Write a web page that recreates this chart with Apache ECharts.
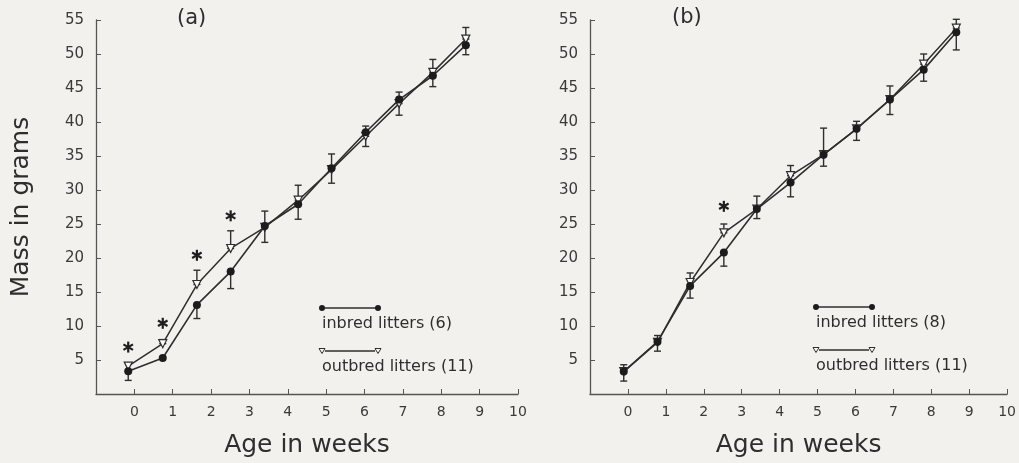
<!DOCTYPE html>
<html>
<head>
<meta charset="utf-8">
<script src="https://cdn.jsdelivr.net/npm/echarts@6/dist/echarts.min.js"></script>
<style>
html,body{margin:0;padding:0;background:#f2f1ed;}
#c{width:1019px;height:463px;}
</style>
</head>
<body>
<div id="c"></div>
<script>
// ---------- Data ----------
// Panel (a)
const weeksA = [-0.16, 0.74, 1.63, 2.51, 3.40, 4.27, 5.14, 6.03, 6.90, 7.78, 8.64];
const inbredA = [3.35, 5.3, 13.1, 18.0, 24.7, 27.9, 33.2, 38.5, 43.3, 46.8, 51.3];
const inbredALow = [2.0, 5.3, 11.1, 15.5, 22.3, 25.7, 31.0, 38.5, 43.3, 45.2, 49.9];
const inbredAHigh = [3.35, 5.3, 13.1, 18.0, 26.9, 27.9, 35.3, 39.4, 44.4, 46.8, 51.3];
const outbredA = [4.1, 7.4, 16.1, 21.4, 24.5, 28.5, 33.0, 37.9, 42.7, 47.3, 52.2];
const outbredALow = [4.1, 7.4, 16.1, 21.4, 24.5, 28.5, 33.0, 36.4, 41.0, 47.3, 52.2];
const outbredAHigh = [4.1, 8.0, 18.2, 24.0, 24.5, 30.7, 33.0, 37.9, 42.7, 49.2, 53.9];
const starsAx = [-0.16, 0.74, 1.63, 2.51];
const starsAy = [6.9, 10.4, 20.4, 26.2];

// Panel (b)
const weeksB = [-0.11, 0.78, 1.64, 2.53, 3.40, 4.29, 5.16, 6.03, 6.91, 7.80, 8.66];
const inbredB = [3.3, 7.7, 15.9, 20.8, 27.2, 31.1, 35.2, 39.0, 43.3, 47.7, 53.2];
const inbredBLow = [1.9, 6.3, 14.1, 18.8, 25.8, 29.0, 33.5, 37.3, 41.1, 46.0, 50.6];
const inbredBHigh = [4.3, 8.6, 17.8, 20.8, 29.1, 31.1, 39.1, 40.1, 45.3, 47.7, 53.2];
const outbredB = [3.3, 7.6, 16.4, 23.7, 27.2, 32.1, 35.2, 39.0, 43.3, 48.5, 53.8];
const outbredBLow = [3.3, 7.6, 16.4, 23.7, 27.2, 32.1, 35.2, 39.0, 43.3, 48.5, 53.8];
const outbredBHigh = [3.3, 7.6, 16.4, 25.0, 27.2, 33.6, 35.2, 39.0, 43.3, 50.0, 55.1];
const starsBx = [2.53];
const starsBy = [27.6];

const xTicks = [0,1,2,3,4,5,6,7,8,9,10];
const yTicks = [5,10,15,20,25,30,35,40,45,50,55];
const legendA = ['inbred litters (6)', 'outbred litters (11)'];
const legendB = ['inbred litters (8)', 'outbred litters (11)'];

// ---------- Styling ----------
const INK = '#2e2e2e';
const AXIS = '#555';
const FONT = 'DejaVu Sans';

const zip = (xs, ys) => xs.map((x, i) => [x, ys[i]]);
const zip3 = (xs, a, b) => xs.map((x, i) => [x, a[i], b[i]]);

function errRender(params, api) {
  const x = api.value(0), lo = api.value(1), hi = api.value(2);
  if (hi - lo < 0.01) return null;
  const p1 = api.coord([x, hi]), p2 = api.coord([x, lo]);
  const w = 3.5;
  const st = {stroke: INK, lineWidth: 1.4};
  return {type: 'group', children: [
    {type: 'line', shape: {x1: p1[0], y1: p1[1], x2: p2[0], y2: p2[1]}, style: st},
    {type: 'line', shape: {x1: p1[0]-w, y1: p1[1], x2: p1[0]+w, y2: p1[1]}, style: st},
    {type: 'line', shape: {x1: p2[0]-w, y1: p2[1], x2: p2[0]+w, y2: p2[1]}, style: st}
  ]};
}
function starRender(params, api) {
  const p = api.coord([api.value(0), api.value(1)]);
  const r = 5.5, ch = [];
  for (let k = 0; k < 3; k++) {
    const a = Math.PI / 2 + k * Math.PI / 3;
    ch.push({type: 'line', shape: {x1: p[0] - r*Math.cos(a), y1: p[1] - r*Math.sin(a), x2: p[0] + r*Math.cos(a), y2: p[1] + r*Math.sin(a)},
      style: {stroke: '#1e1e1e', lineWidth: 2.2}});
  }
  return {type: 'group', children: ch};
}

function xAxis(gi) {
  return {
    type: 'value', gridIndex: gi, min: -1, max: 10, interval: 1,
    name: 'Age in weeks', nameLocation: 'middle', nameGap: 39,
    nameTextStyle: {fontFamily: FONT, fontSize: 25, color: INK},
    axisLine: {onZero: false, lineStyle: {color: AXIS, width: 1.3}},
    axisTick: {inside: true, length: 5, lineStyle: {color: AXIS}},
    axisLabel: {fontFamily: FONT, fontSize: 14, color: '#3a3a3a', margin: 11,
      formatter: v => (xTicks.indexOf(v) >= 0 ? String(v) : '')},
    splitLine: {show: false}
  };
}
function yAxis(gi, withName) {
  return {
    type: 'value', gridIndex: gi, min: 0, max: 55, interval: 5,
    name: withName ? 'Mass in grams' : '', nameLocation: 'middle', nameGap: 62,
    nameTextStyle: {fontFamily: FONT, fontSize: 25, color: INK},
    axisLine: {show: true, onZero: false, lineStyle: {color: AXIS, width: 1.3}},
    axisTick: {show: true, inside: true, length: 5, lineStyle: {color: AXIS}},
    axisLabel: {fontFamily: FONT, fontSize: 15, color: '#3a3a3a', margin: 12,
      formatter: v => (yTicks.indexOf(v) >= 0 ? String(v) : '')},
    splitLine: {show: false}
  };
}

function panelSeries(gi, weeks, inb, inbLo, inbHi, outb, outLo, outHi, sx, sy) {
  return [
    {type: 'custom', xAxisIndex: gi, yAxisIndex: gi, renderItem: errRender, data: zip3(weeks, inbLo, inbHi), z: 1, silent: true},
    {type: 'custom', xAxisIndex: gi, yAxisIndex: gi, renderItem: errRender, data: zip3(weeks, outLo, outHi), z: 1, silent: true},
    {type: 'line', xAxisIndex: gi, yAxisIndex: gi, data: zip(weeks, outb), z: 2,
      symbol: 'triangle', symbolRotate: 180, symbolSize: 8,
      itemStyle: {color: '#fafaf8', borderColor: INK, borderWidth: 1.2},
      lineStyle: {color: INK, width: 1.5}},
    {type: 'line', xAxisIndex: gi, yAxisIndex: gi, data: zip(weeks, inb), z: 3,
      symbol: 'circle', symbolSize: 8,
      itemStyle: {color: '#1c1c1c', borderColor: '#1c1c1c', borderWidth: 0},
      lineStyle: {color: INK, width: 1.6}},
    {type: 'custom', xAxisIndex: gi, yAxisIndex: gi, renderItem: starRender, data: zip(sx, sy), z: 4, silent: true}
  ];
}

function legendGraphic(x0, yLine1, labels) {
  const x1 = x0 + 56;
  const yLine2 = yLine1 + 43;
  const tri = (cx, cy) => ({type: 'polygon', shape: {points: [[cx-3, cy-2.5], [cx+3, cy-2.5], [cx, cy+2.5]]},
    style: {fill: '#fafaf8', stroke: INK, lineWidth: 1}});
  return [
    {type: 'line', shape: {x1: x0, y1: yLine1, x2: x1, y2: yLine1}, style: {stroke: INK, lineWidth: 1.5}},
    {type: 'circle', shape: {cx: x0, cy: yLine1, r: 3}, style: {fill: '#1c1c1c'}},
    {type: 'circle', shape: {cx: x1, cy: yLine1, r: 3}, style: {fill: '#1c1c1c'}},
    {type: 'text', left: x0, top: yLine1 + 8, style: {text: labels[0], font: '16px "DejaVu Sans"', fill: INK}},
    {type: 'line', shape: {x1: x0 + 3, y1: yLine2, x2: x1 - 3, y2: yLine2}, style: {stroke: INK, lineWidth: 1.3}},
    tri(x0, yLine2), tri(x1, yLine2),
    {type: 'text', left: x0, top: yLine2 + 8, style: {text: labels[1], font: '16px "DejaVu Sans"', fill: INK}}
  ];
}

const chart = echarts.init(document.getElementById('c'), null, {renderer: 'canvas'});
chart.setOption({
  backgroundColor: '#f2f1ed',
  animation: false,
  grid: [
    {left: 96, width: 422, top: 20, height: 376},
    {left: 590, width: 421, top: 20, height: 376}
  ],
  xAxis: [xAxis(0), xAxis(1)],
  yAxis: [yAxis(0, true), yAxis(1, false)],
  series: [
    ...panelSeries(0, weeksA, inbredA, inbredALow, inbredAHigh, outbredA, outbredALow, outbredAHigh, starsAx, starsAy),
    ...panelSeries(1, weeksB, inbredB, inbredBLow, inbredBHigh, outbredB, outbredBLow, outbredBHigh, starsBx, starsBy)
  ],
  graphic: [
    {type: 'text', left: 177, top: 8, style: {text: '(a)', font: '21px "DejaVu Sans"', fill: INK}},
    {type: 'text', left: 672, top: 7, style: {text: '(b)', font: '21px "DejaVu Sans"', fill: INK}},
    ...legendGraphic(322, 308, legendA),
    ...legendGraphic(816, 307, legendB)
  ]
});
</script>
</body>
</html>
